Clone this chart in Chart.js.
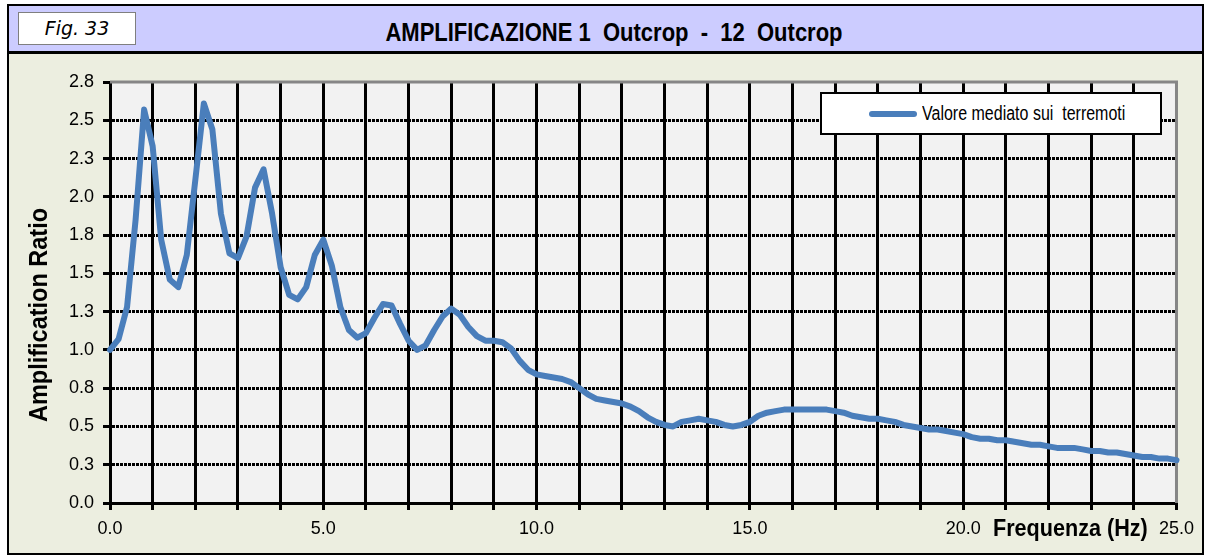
<!DOCTYPE html>
<html>
<head>
<meta charset="utf-8">
<title>Amplificazione</title>
<script src="https://cdn.jsdelivr.net/npm/chart.js@4.4.1/dist/chart.umd.min.js"></script>
<style>
  body { margin: 0; width: 1210px; height: 557px; position: relative; overflow: hidden; background: #fff; }
  .abs { position: absolute; }
  .narrow { font-family: "Liberation Sans Narrow", "Arial Narrow", "Liberation Sans", sans-serif; color: #000; white-space: pre; }
  #frame { left: 7px; top: 4px; width: 1193px; height: 547px; border: 2px solid #000; background: #ECEEE0; }
  #head { left: 9px; top: 6px; width: 1193px; height: 45px; background: #CCCCFF; border-bottom: 3px solid #000; }
  #fig { left: 18px; top: 12px; width: 116px; height: 31px; background: #fff; border: 1px solid #7f7f7f;
         font: italic 19px "DejaVu Sans", sans-serif; line-height: 31px; text-align: center; color: #000; }
  #title { left: 314px; top: 17px; width: 600px; text-align: center; font-weight: bold; font-size: 25px;
           line-height: 30px; transform: scaleX(0.88); }
  #wrap { left: 10px; top: 55px; width: 1192px; height: 498px; }
  #ytitle { left: -112px; top: 301px; width: 300px; height: 28px; line-height: 28px; text-align: center;
            font-weight: bold; font-size: 25px; transform: rotate(-90deg) scaleX(0.94); }
  #xtitle { left: 993px; top: 514px; line-height: 28px; font-weight: bold; font-size: 24px;
            transform-origin: 0 50%; transform: scaleX(0.9); }
  #legend { left: 820px; top: 92px; width: 338px; height: 39px; background: #fff; border: 2px solid #000; }
  #legline { left: 869px; top: 111px; width: 48px; height: 6px; border-radius: 3px; }
  #legtext { left: 922px; top: 101px; line-height: 24px; font-size: 20px;
             transform-origin: 0 50%; transform: scaleX(0.8); }
</style>
</head>
<body>
<div id="frame" class="abs"></div>
<div id="head" class="abs"></div>
<div id="fig" class="abs">Fig. 33</div>
<div id="title" class="abs narrow">AMPLIFICAZIONE 1  Outcrop  -  12  Outcrop</div>
<div id="wrap" class="abs"><canvas id="amp_canvas"></canvas></div>
<div id="ytitle" class="abs narrow">Amplification Ratio</div>
<div id="xtitle" class="abs narrow">Frequenza (Hz)</div>
<div id="legend" class="abs"></div>
<div id="legline" class="abs"></div>
<div id="legtext" class="abs narrow"></div>
<script>
//frequency (Hz) of each sample
var freq = [
    0.0, 0.2, 0.4, 0.6, 0.8, 1.0, 1.2, 1.4, 1.6, 1.8,
    2.0, 2.2, 2.4, 2.6, 2.8, 3.0, 3.2, 3.4, 3.6, 3.8,
    4.0, 4.2, 4.4, 4.6, 4.8, 5.0, 5.2, 5.4, 5.6, 5.8,
    6.0, 6.2, 6.4, 6.6, 6.8, 7.0, 7.2, 7.4, 7.6, 7.8,
    8.0, 8.2, 8.4, 8.6, 8.8, 9.0, 9.2, 9.4, 9.6, 9.8,
    10.0, 10.2, 10.4, 10.6, 10.8, 11.0, 11.2, 11.4, 11.6, 11.8,
    12.0, 12.2, 12.4, 12.6, 12.8, 13.0, 13.2, 13.4, 13.6, 13.8,
    14.0, 14.2, 14.4, 14.6, 14.8, 15.0, 15.2, 15.4, 15.6, 15.8,
    16.0, 16.2, 16.4, 16.6, 16.8, 17.0, 17.2, 17.4, 17.6, 17.8,
    18.0, 18.2, 18.4, 18.6, 18.8, 19.0, 19.2, 19.4, 19.6, 19.8,
    20.0, 20.2, 20.4, 20.6, 20.8, 21.0, 21.2, 21.4, 21.6, 21.8,
    22.0, 22.2, 22.4, 22.6, 22.8, 23.0, 23.2, 23.4, 23.6, 23.8,
    24.0, 24.2, 24.4, 24.6, 24.8, 25.0
];

//amplification averaged over the earthquakes
var ampMean = [
    1.00, 1.07, 1.28, 1.85, 2.57, 2.33, 1.72, 1.46, 1.41, 1.62,
    2.11, 2.61, 2.44, 1.89, 1.63, 1.60, 1.74, 2.06, 2.18, 1.89,
    1.54, 1.36, 1.33, 1.41, 1.62, 1.72, 1.55, 1.28, 1.13, 1.08,
    1.11, 1.21, 1.30, 1.29, 1.17, 1.06, 1.00, 1.03, 1.13, 1.22,
    1.27, 1.23, 1.15, 1.09, 1.06, 1.06, 1.05, 1.01, 0.93, 0.87,
    0.84, 0.83, 0.82, 0.81, 0.79, 0.75, 0.71, 0.68, 0.67, 0.66,
    0.65, 0.63, 0.60, 0.56, 0.53, 0.51, 0.50, 0.53, 0.54, 0.55,
    0.54, 0.53, 0.51, 0.50, 0.51, 0.53, 0.57, 0.59, 0.60, 0.61,
    0.61, 0.61, 0.61, 0.61, 0.61, 0.60, 0.59, 0.57, 0.56, 0.55,
    0.55, 0.54, 0.53, 0.51, 0.50, 0.49, 0.48, 0.48, 0.47, 0.46,
    0.45, 0.43, 0.42, 0.42, 0.41, 0.41, 0.40, 0.39, 0.38, 0.38,
    0.37, 0.36, 0.36, 0.36, 0.35, 0.34, 0.34, 0.33, 0.33, 0.32,
    0.31, 0.30, 0.30, 0.29, 0.29, 0.28
];

var seriesLabel = "Valore mediato sui  terremoti";
var seriesColor = "#4A7EBB";

//axis ranges and tick spacing
var xMin = 0, xMax = 25, xStep = 1, xLabelEvery = 5;
var yMin = 0, yMax = 2.75, yStep = 0.25;

var tickFont = { family: '"Liberation Sans", Arial, sans-serif', size: 18 };

var points = [];
for (var i = 0; i < freq.length; i++)
    points.push({ x: freq[i], y: ampMean[i] });

//gray plot background + gray top/right edge, like the spreadsheet plot area
var plotArea = {
    id: 'plotArea',
    beforeDraw: function(chart) {
        var a = chart.chartArea, ctx = chart.ctx;
        ctx.save();
        ctx.fillStyle = '#F2F2F2';
        ctx.fillRect(a.left, a.top, a.right - a.left, a.bottom - a.top);
        ctx.restore();
    },
    beforeDatasetsDraw: function(chart) {
        var a = chart.chartArea, ctx = chart.ctx;
        ctx.save();
        ctx.strokeStyle = '#868686';
        ctx.lineWidth = 3;
        ctx.beginPath();
        ctx.moveTo(a.left, a.top);
        ctx.lineTo(a.right, a.top);
        ctx.lineTo(a.right, a.bottom);
        ctx.stroke();
        ctx.restore();
    }
};

document.getElementById("legline").style.background = seriesColor;
document.getElementById("legtext").textContent = seriesLabel;

var ctx = document.getElementById("amp_canvas").getContext('2d');
var ampChart = new Chart(ctx, {
    type: 'line',
    data: {
        datasets: [{
            label: seriesLabel,
            data: points,
            borderColor: seriesColor,
            backgroundColor: seriesColor,
            borderWidth: 6,
            pointRadius: 0,
            tension: 0,
            borderCapStyle: 'round',
            borderJoinStyle: 'round',
            clip: false
        }]
    },
    options: {
        responsive: true,
        maintainAspectRatio: false,
        animation: false,
        layout: { padding: { left: 0, top: 27, right: 24, bottom: 0 } },
        plugins: {
            legend: { display: false },
            tooltip: { enabled: false }
        },
        scales: {
            x: {
                type: 'linear',
                min: xMin,
                max: xMax,
                afterFit: function(s) { s.height = 50; },
                ticks: {
                    stepSize: xStep,
                    autoSkip: false,
                    maxRotation: 0,
                    padding: 8,
                    color: '#000',
                    font: tickFont,
                    callback: function(v) { return v % xLabelEvery === 0 ? v.toFixed(1) : ''; }
                },
                grid: {
                    color: function(c) { return c.tick && c.tick.value === xMax ? 'rgba(0,0,0,0)' : '#000'; },
                    lineWidth: 3,
                    tickLength: 7,
                    tickColor: '#000',
                    tickWidth: 3
                },
                border: { color: '#000', width: 3 }
            },
            y: {
                min: yMin,
                max: yMax,
                afterFit: function(s) { s.width = 100; },
                ticks: {
                    stepSize: yStep,
                    padding: 9,
                    color: '#000',
                    font: tickFont,
                    callback: function(v) { return v.toFixed(1); }
                },
                grid: {
                    color: function(c) { return c.tick && c.tick.value === yMax ? 'rgba(0,0,0,0)' : '#000'; },
                    lineWidth: 3,
                    tickLength: 7,
                    tickColor: '#000',
                    tickWidth: 3
                },
                border: { color: '#000', width: 3, dash: [3, 1] }
            }
        }
    },
    plugins: [plotArea]
});
</script>
</body>
</html>
